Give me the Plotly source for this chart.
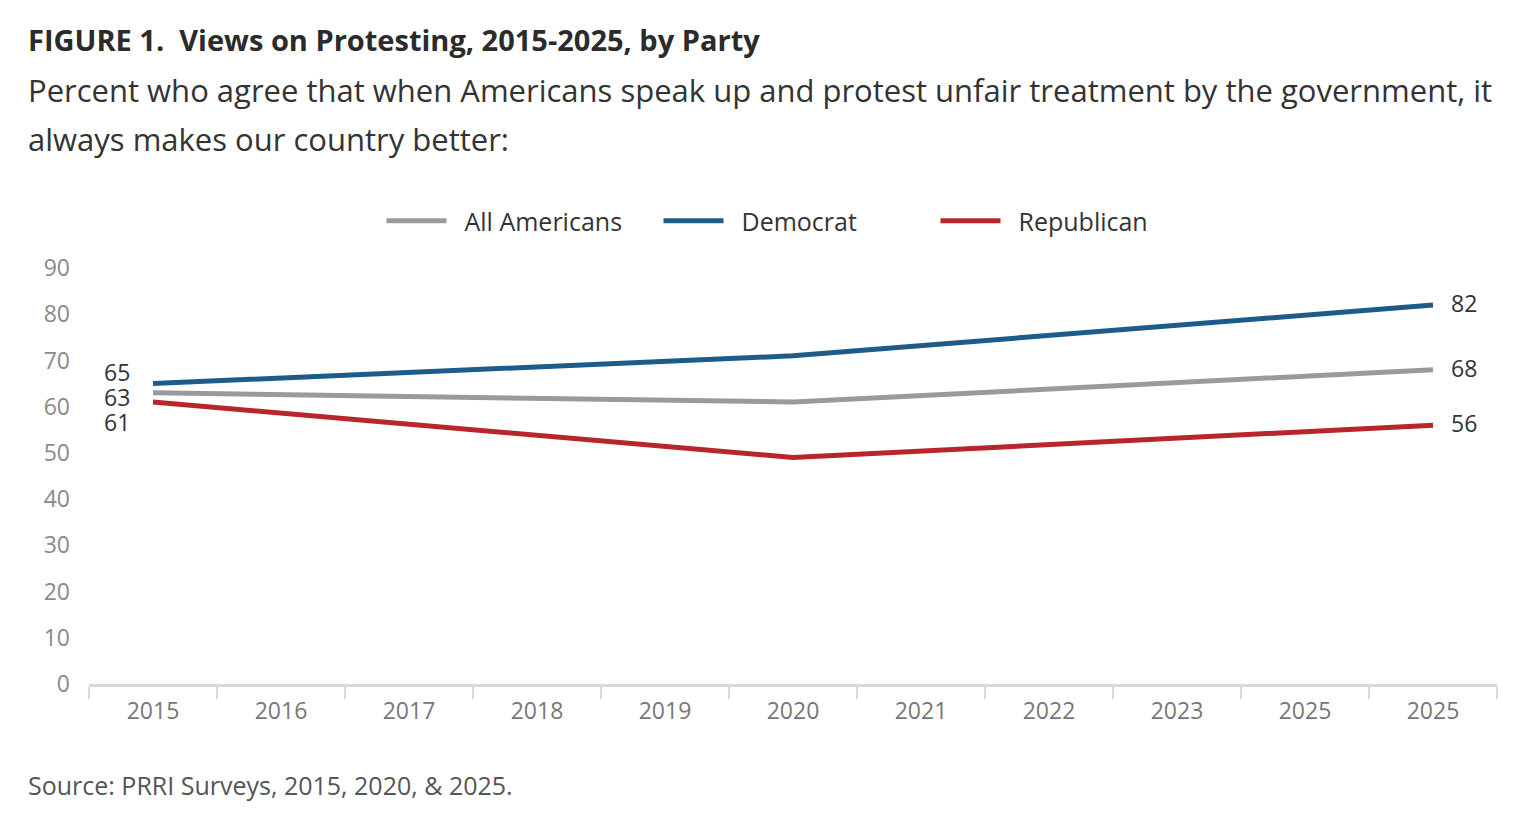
import plotly.graph_objects as go

# --- data ---
tick_labels = ["2015", "2016", "2017", "2018", "2019", "2020",
               "2021", "2022", "2023", "2025", "2025"]
survey_pos = [0, 5, 10]          # slots that hold the 2015, 2020, 2025 surveys
all_americans = [63, 61, 68]
democrat = [65, 71, 82]
republican = [61, 49, 56]

series = [
    ("All Americans", all_americans, "#999a9c"),
    ("Democrat", democrat, "#1d5b8a"),
    ("Republican", republican, "#b8252b"),
]

# pixel geometry (the page adds an 8px body margin)
OFF = 8
W, H = 1536 - 2 * OFF, 822 - 2 * OFF
L, T = 89 - OFF, 268 - OFF
R = W - (1497 - OFF)
B = H - (684 - OFF)
plot_h = H - T - B
plot_w = W - L - R


def py(pix):
    # page pixel row -> paper y
    return (H - B - (pix - OFF)) / plot_h


def px_(pix):
    return (pix - OFF - L) / plot_w


fig = go.Figure()
for name, vals, col in series:
    fig.add_trace(go.Scatter(
        x=survey_pos, y=vals, mode="lines",
        name="\u00a0\u00a0" + name,   # small gap after the legend swatch
        line=dict(color=col, width=5),
        hovertemplate=name + ": %{y}<extra></extra>",
    ))

# end labels: left side nudged apart, right side centred
left_shift = {"All Americans": -4, "Democrat": 12, "Republican": -20}
for name, vals, col in series:
    fig.add_annotation(x=survey_pos[0], y=vals[0], text=str(vals[0]),
                       showarrow=False, xanchor="right", xshift=-21,
                       yshift=left_shift[name],
                       font=dict(size=23, color="#333333"))
    fig.add_annotation(x=survey_pos[-1], y=vals[-1], text=str(vals[-1]),
                       showarrow=False, xanchor="left", xshift=16, yshift=2,
                       font=dict(size=23, color="#333333"))

# headline, subtitle and source
fig.add_annotation(xref="paper", yref="paper", x=px_(26), y=py(40),
                   xanchor="left", yanchor="middle", showarrow=False,
                   text="<b>FIGURE 1.  Views on Protesting, 2015-2025, by Party</b>",
                   font=dict(size=29, color="#2b2b2b"))
fig.add_annotation(xref="paper", yref="paper", x=px_(26), y=py(90),
                   xanchor="left", yanchor="middle", showarrow=False,
                   text="Percent who agree that when Americans speak up and protest unfair treatment by the government, it",
                   font=dict(size=31, color="#333333"))
fig.add_annotation(xref="paper", yref="paper", x=px_(26), y=py(139),
                   xanchor="left", yanchor="middle", showarrow=False,
                   text="always makes our country better:",
                   font=dict(size=31, color="#333333"))
fig.add_annotation(xref="paper", yref="paper", x=px_(26), y=py(785),
                   xanchor="left", yanchor="middle", showarrow=False,
                   text="Source: PRRI Surveys, 2015, 2020, & 2025.",
                   font=dict(size=25, color="#555555"))

fig.update_layout(
    width=W, height=H,
    margin=dict(l=L, r=R, t=T, b=B, autoexpand=False),
    paper_bgcolor="white", plot_bgcolor="white",
    font=dict(family="Open Sans, sans-serif", color="#333333"),
    showlegend=True,
    legend=dict(orientation="h", x=px_(797), xanchor="center",
                y=py(221), yanchor="middle",
                font=dict(size=25, color="#333333"),
                itemwidth=60, entrywidth=202, entrywidthmode="pixels"),
    xaxis=dict(
        range=[-0.5, 10.5], tickmode="array",
        tickvals=list(range(len(tick_labels))), ticktext=tick_labels,
        ticks="", showgrid=False, zeroline=False,
        showline=True, linecolor="#d9d9d9", linewidth=3,
        tickfont=dict(size=23, color="#777777"),
        ticklabelstandoff=4,
        minor=dict(tick0=-0.5, dtick=1, ticks="outside", ticklen=12,
                   tickwidth=2, tickcolor="#d9d9d9", showgrid=False),
        fixedrange=True,
    ),
    yaxis=dict(
        range=[0, 90], tickvals=list(range(0, 91, 10)),
        showgrid=False, zeroline=False, showline=False, ticks="",
        tickfont=dict(size=23, color="#8a8a8a"),
        ticklabelstandoff=18, fixedrange=True,
    ),
)

fig.write_html("out.html")
